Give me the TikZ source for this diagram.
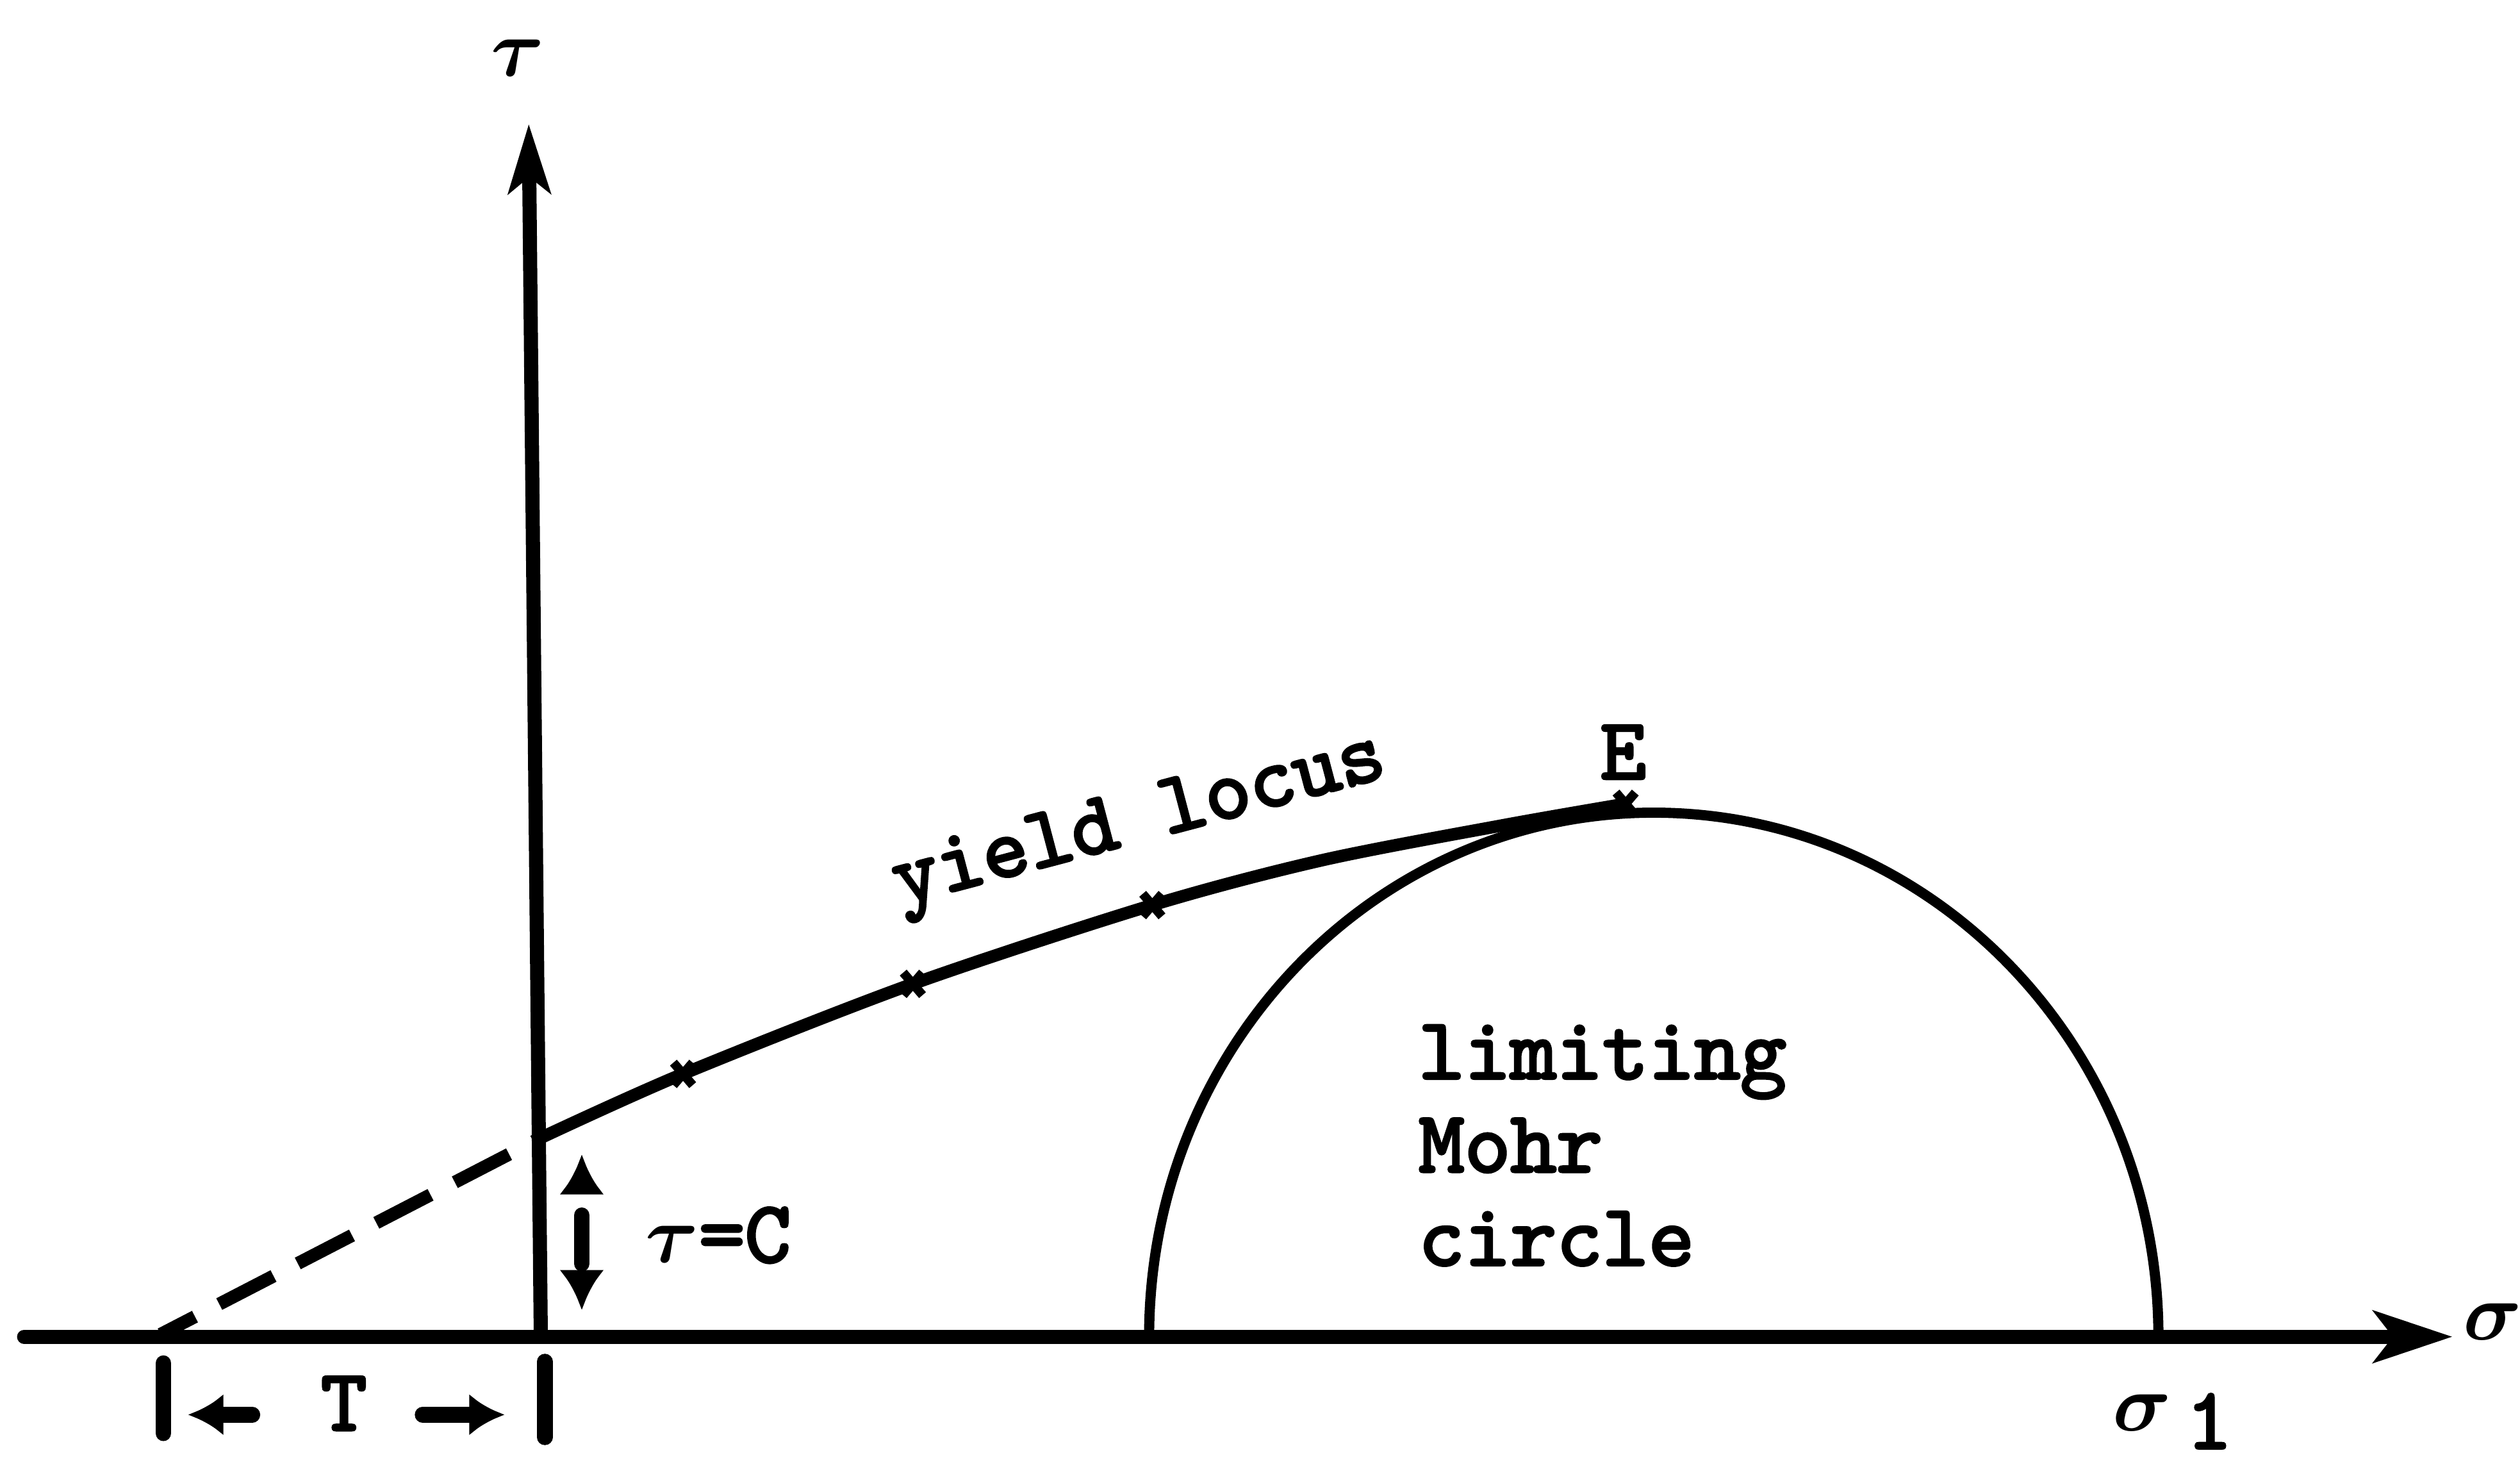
\documentclass[tikz,border=0pt]{standalone}
\usepackage{fontspec}
\newfontfamily\twfont{lmmono10-regular}[Extension=.otf,FakeBold=3]
\usetikzlibrary{arrows.meta}

\begin{document}
\begin{tikzpicture}[>=Stealth,
    lbl/.style={font=\twfont\fontsize{15.5}{16.5}\selectfont\boldmath,inner sep=0pt},
    axis/.style={line width=2.5pt,line cap=round},
    locus/.style={line width=2.2pt,line join=round},
    mohr/.style={line width=1.8pt},
    locmark/.style={line width=1.6pt},
    extrap/.style={line width=2.3pt,dash pattern=on 0.38cm off 0.17cm,dash phase=0.14cm},
    dimline/.style={line width=2.8pt,line cap=round},
    dimtip/.style={line width=2.8pt,-{Latex[length=2.5mm,width=2.8mm]}}]
  \useasboundingbox (0,0) rectangle (15.68,9.08);
  % axes
  \coordinate (O) at (3.365,0.765);
  \coordinate (sL) at (0.15,0.765);
  \coordinate (sR) at (15.26,0.765);
  \coordinate (tT) at (3.29,8.31);
  \draw[axis,-{Stealth[length=4.9mm,width=3.2mm,inset=1.2mm]}] (sL) -- (sR);
  \draw[axis,-{Stealth[length=4.3mm,width=2.6mm,inset=1mm]}] (O) -- (tT);
  \node[lbl] (sig) at (15.51,0.86) {$\sigma$};
  \node[lbl] (tau) at (3.22,8.72) {$\tau$};
  % yield locus and its extension
  \coordinate (Tl) at (1.0,0.78);
  \coordinate (C) at (3.36,2.0);
  \coordinate (m1) at (4.25,2.40);
  \coordinate (m2) at (5.68,2.96);
  \coordinate (m3) at (7.17,3.45);
  \coordinate (E) at (10.115,4.08);
  \draw[locus] plot[smooth] coordinates {(C) (m1) (m2) (m3) (8.23,3.73) (9.37,3.95) (E)};
  \draw[extrap] (Tl) -- (C);
  \foreach \p in {m1,m2,m3,E}
    \draw[locmark] (\p) +(-.06,-.07) -- +(.06,.07) +(-.06,.07) -- +(.06,-.07);
  \node[lbl,anchor=base,rotate=14.8] (yl) at (7.12,3.85) {yield locus};
  \node[lbl,anchor=base] (Elbl) at (10.10,4.235) {E};
  % limiting circle
  \coordinate (A) at (7.15,0.765);
  \draw[mohr] (A) arc[start angle=180,end angle=0,x radius=3.14,y radius=3.26];
  \node[lbl,anchor=base west] (lim) at (8.82,2.37) {limiting};
  \node[lbl,anchor=base west] (moh) at (8.82,1.79) {Mohr};
  \node[lbl,anchor=base west] (cir) at (8.82,1.21) {circle};
  \node[lbl,anchor=base west] (s1) at (13.14,0.18) {$\sigma$\hspace{0.09cm}\raisebox{-0.11cm}{1}};
  % cohesion
  \coordinate (Ctop) at (3.62,1.90);
  \coordinate (Ctb) at (3.62,1.66);
  \coordinate (Cbot) at (3.62,0.93);
  \coordinate (Cbb) at (3.62,1.15);
  \coordinate (Cm1) at (3.62,1.22);
  \coordinate (Cm2) at (3.62,1.52);
  \draw[dimline] (Cm1) -- (Cm2);
  \draw[dimtip] (Ctb) -- (Ctop);
  \draw[dimtip] (Cbb) -- (Cbot);
  \node[lbl,anchor=base west] (tc) at (4.01,1.23) {$\tau$=C};
  % tensile strength
  \coordinate (Lb1) at (1.017,0.60);
  \coordinate (Lb2) at (1.017,0.165);
  \coordinate (Rb1) at (3.39,0.61);
  \coordinate (Rb2) at (3.39,0.14);
  \draw[dimline] (Lb1) -- (Lb2);
  \draw[dimline] (Rb1) -- (Rb2);
  \node[lbl] (T) at (2.14,0.35) {T};
  \coordinate (Lt) at (1.17,0.28);
  \coordinate (Ls) at (1.57,0.28);
  \coordinate (Rs) at (2.63,0.28);
  \coordinate (Rt) at (3.14,0.28);
  \draw[dimline,-{Latex[length=2.2mm,width=2.6mm]}] (Ls) -- (Lt);
  \draw[dimline,-{Latex[length=2.2mm,width=2.6mm]}] (Rs) -- (Rt);
\end{tikzpicture}
\end{document}
